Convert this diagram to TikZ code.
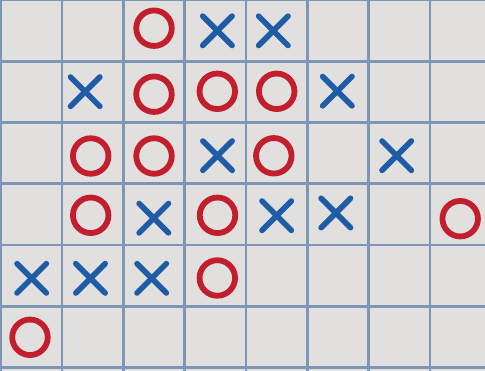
\documentclass[tikz,border=0pt]{standalone}
\definecolor{bgc}{HTML}{E2E0DF}
\definecolor{gridc}{HTML}{7E96B6}
\definecolor{oc}{HTML}{C21E2D}
\definecolor{xc}{HTML}{1F5CA7}
\begin{document}
\begin{tikzpicture}[x=1pt,y=-1pt,
  gridline/.style={draw=gridc,line width=2.7pt},
  omark/.style={draw=oc,line width=5.8pt},
  xmark/.style={draw=xc,line width=5.6pt,line cap=round}]
\fill[bgc] (0,0) rectangle (485,371);
\useasboundingbox (0,0) rectangle (485,371);
% grid
\foreach \i in {0,...,7} {
  \draw[gridline] ({0.8+61.3*\i},-5) -- ({0.8+61.3*\i},376);
}
\foreach \j in {0,...,6} {
  \draw[gridline] (-5,{61.25*\j}) -- (490,{61.25*\j});
}
% O marks
\foreach \cx/\cy in {154/28.2, 154/94.2, 217.3/91.3, 276.7/91.3,
  90.7/156, 154/156, 273.8/155.8,
  90.7/215.3, 217.5/215.3, 460.2/218.7,
  217.3/278, 30/337.3} {
  \draw[omark] (\cx,\cy) circle[radius=17.75];
}
% X marks
\foreach \cx/\cy in {217.4/30.8, 273.3/30.8,
  85.2/91.7, 337.3/91.2,
  217.5/155.7, 396.7/155.7,
  153.8/218.2, 276.7/215.7, 335.8/213,
  31.7/278.3, 90.5/278.3, 151.7/278.3} {
  \draw[xmark] (\cx-14.7,\cy-14.7) -- (\cx+14.7,\cy+14.7);
  \draw[xmark] (\cx-14.7,\cy+14.7) -- (\cx+14.7,\cy-14.7);
}
\end{tikzpicture}
\end{document}
